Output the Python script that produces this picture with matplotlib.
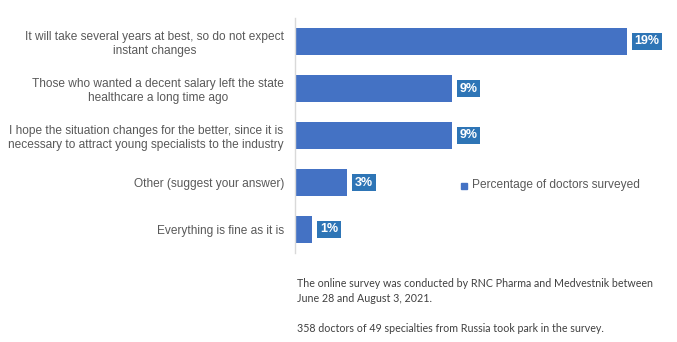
import matplotlib

matplotlib.use("Agg")

import matplotlib.pyplot as plt
from matplotlib.patches import Rectangle

# Survey answers, top to bottom, and share of respondents (%)
answers = [
    "It will take several years at best, so do not expect\ninstant changes",
    "Those who wanted a decent salary left the state\nhealthcare a long time ago",
    "I hope the situation changes for the better, since it is\nnecessary to attract young specialists to the industry",
    "Other (suggest your answer)",
    "Everything is fine as it is",
]
shares = [19, 9, 9, 3, 1]
series_name = "Percentage of doctors surveyed"
notes = [
    "The online survey was conducted by RNC Pharma and Medvestnik between\nJune 28 and August 3, 2021.",
    "358 doctors of 49 specialties from Russia took park in the survey.",
]

BAR = "#4472c4"
LABEL_BOX = "#2e75b6"
TEXT = "#595959"

W, H = 677, 342
fig = plt.figure(figsize=(W / 100, H / 100), dpi=100)
fig.patch.set_facecolor("white")

ax = fig.add_axes([295 / W, 1 - 253 / H, 382 / W, 235 / H])
ypos = list(range(len(answers)))
ax.barh(ypos, shares, height=0.57, color=BAR, zorder=2)
ax.set_ylim(len(answers) - 0.5, -0.5)
ax.set_xlim(0, 382 / 17.47)

ax.set_yticks(ypos)
ax.set_yticklabels(answers, fontsize=8.6, color=TEXT, family="Liberation Sans",
                   multialignment="center", linespacing=1.2)
ax.tick_params(axis="y", length=0, pad=8)
ax.set_xticks([])
for side in ("top", "right", "bottom"):
    ax.spines[side].set_visible(False)
ax.spines["left"].set_color("#d9d9d9")
ax.spines["left"].set_linewidth(1.0)

# value labels in small filled boxes just past each bar end
for y, v in zip(ypos, shares):
    ax.annotate(f"{v}%", xy=(v, y), xytext=(5.4, 0), textcoords="offset points",
                ha="left", va="center", fontsize=9, fontweight="bold",
                color="white", family="Liberation Sans",
                bbox=dict(boxstyle="square,pad=0.2", fc=LABEL_BOX, ec="none"))

# legend entry
fig.patches.append(Rectangle((461 / W, 1 - 189 / H), 6 / W, 6 / H,
                             transform=fig.transFigure, color=BAR))
fig.text(472 / W, 1 - 185 / H, series_name, fontsize=8.6, color=TEXT,
         family="Liberation Sans", va="center")

fig.text(297 / W, 1 - 291 / H, notes[0], fontsize=7.7, color="#404040",
         family="Lato", va="center", linespacing=1.5)
fig.text(297 / W, 1 - 328 / H, notes[1], fontsize=7.7, color="#404040",
         family="Lato", va="center")

fig.savefig("out.png", dpi=100, facecolor="white")
